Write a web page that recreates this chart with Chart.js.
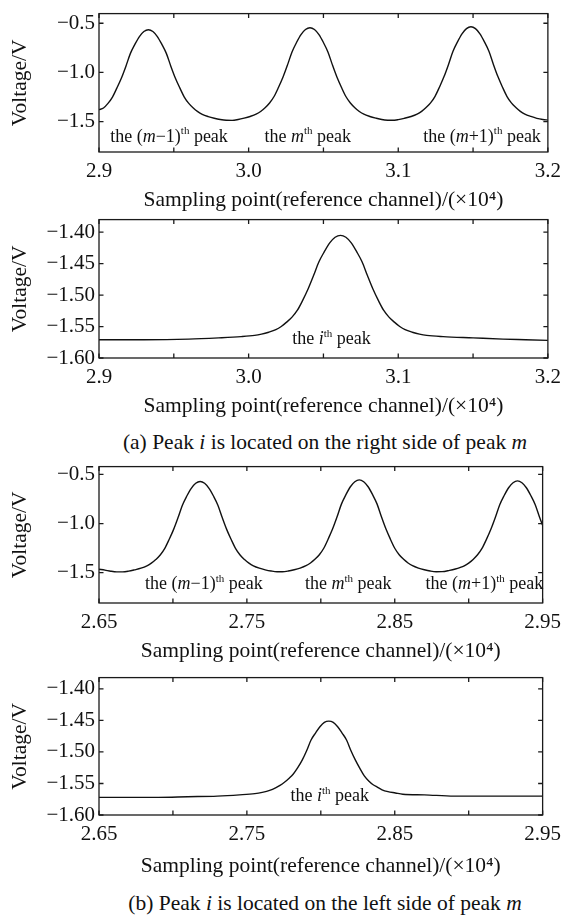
<!DOCTYPE html>
<html>
<head>
<meta charset="utf-8">
<title>Peak positions on the reference channel</title>
<script src="https://cdn.jsdelivr.net/npm/chart.js@4.4.1/dist/chart.umd.min.js"></script>
<style>
  html, body { margin: 0; padding: 0; background: #fff; }
  body { width: 568px; height: 917px; position: relative; overflow: hidden;
         font-family: "Liberation Serif", "Times New Roman", serif; color: #111; }
  canvas { position: absolute; left: 0; }
  .cap { position: absolute; left: 25px; width: 600px; text-align: center;
         font-size: 21.5px; line-height: 24px; white-space: nowrap; }
</style>
</head>
<body>
<div class="cap" style="top:430px">(a) Peak <i>i</i> is located on the right side of peak <i>m</i></div>
<div class="cap" style="top:891px">(b) Peak <i>i</i> is located on the left side of peak <i>m</i></div>
<script>
// ---- (a) upper: reference channel, peaks m-1, m, m+1 (sampling point ×10^4, voltage V)
const samplesA1 = [2.900,2.903,2.906,2.909,2.912,2.915,2.918,2.921,2.924,2.927,2.930,2.933,2.936,2.939,2.942,
  2.945,2.948,2.951,2.954,2.957,2.960,2.963,2.966,2.969,2.973,2.977,2.981,2.985,2.989,2.993,
  2.997,3.001,3.005,3.008,3.011,3.014,3.017,3.020,3.023,3.026,3.029,3.032,3.035,3.038,3.041,
  3.044,3.047,3.050,3.053,3.056,3.059,3.062,3.065,3.068,3.071,3.074,3.077,3.081,3.085,3.089,
  3.093,3.096,3.100,3.104,3.1086,3.1126,3.1156,3.1186,3.1216,3.1246,3.1276,3.1306,3.1336,3.1366,3.1396,
  3.1426,3.1456,3.1486,3.1516,3.1546,3.1576,3.1606,3.1636,3.1666,3.1696,3.1726,3.1756,3.1786,3.1816,3.1846,
  3.1886,3.1926,3.1966,3.200];
const voltsA1 = [-1.378,-1.361,-1.314,-1.250,-1.157,-1.056,-0.936,-0.806,-0.714,-0.635,-0.584,-0.566,-0.584,-0.635,-0.714,
  -0.806,-0.936,-1.056,-1.157,-1.250,-1.314,-1.361,-1.398,-1.425,-1.448,-1.465,-1.478,-1.486,-1.487,-1.478,
  -1.464,-1.447,-1.424,-1.396,-1.358,-1.310,-1.244,-1.150,-1.046,-0.923,-0.791,-0.696,-0.616,-0.564,-0.545,
  -0.564,-0.616,-0.696,-0.791,-0.923,-1.046,-1.150,-1.244,-1.310,-1.358,-1.396,-1.424,-1.447,-1.464,-1.478,
  -1.485,-1.486,-1.479,-1.466,-1.447,-1.423,-1.395,-1.356,-1.309,-1.242,-1.147,-1.042,-0.918,-0.784,-0.689,
  -0.608,-0.555,-0.536,-0.555,-0.608,-0.689,-0.784,-0.918,-1.042,-1.147,-1.242,-1.309,-1.356,-1.395,-1.423,
  -1.447,-1.466,-1.478,-1.484];

// ---- (a) lower: the i-th peak, right of peak m
const samplesA2 = [2.900,2.930,2.960,2.980,2.995,3.004,3.0086,3.0134,3.0182,3.0218,3.0254,3.029,3.0326,3.0362,3.0398,
  3.0434,3.047,3.0506,3.0542,3.0578,3.0614,3.065,3.0686,3.0722,3.0758,3.0794,3.083,3.0866,3.0902,3.0938,
  3.0974,3.101,3.1046,3.1094,3.1142,3.119,3.130,3.150,3.170,3.185,3.200];
const voltsA2 = [-1.571,-1.571,-1.570,-1.568,-1.566,-1.564,-1.562,-1.559,-1.555,-1.550,-1.543,-1.535,-1.524,-1.508,-1.490,
  -1.469,-1.447,-1.431,-1.417,-1.408,-1.405,-1.408,-1.417,-1.431,-1.447,-1.469,-1.490,-1.508,-1.524,-1.535,
  -1.543,-1.550,-1.555,-1.559,-1.562,-1.564,-1.566,-1.568,-1.570,-1.571,-1.572];

// ---- (b) upper: reference channel, peaks m-1, m, m+1
const samplesB1 = [2.650,2.654,2.658,2.662,2.666,2.670,2.674,2.6784,2.6824,2.6854,2.6884,2.6914,2.6944,2.6974,2.7004,
  2.7034,2.7064,2.7094,2.7124,2.7154,2.7184,2.7214,2.7244,2.7274,2.7304,2.7334,2.7364,2.7394,2.7424,2.7454,
  2.7484,2.7514,2.7544,2.7584,2.7624,2.7664,2.7704,2.774,2.778,2.782,2.786,2.790,2.793,2.796,2.799,
  2.802,2.805,2.808,2.811,2.814,2.817,2.820,2.823,2.826,2.829,2.832,2.835,2.838,2.841,2.844,
  2.847,2.850,2.853,2.856,2.859,2.862,2.866,2.870,2.874,2.878,2.882,2.887,2.891,2.894,2.897,
  2.900,2.903,2.906,2.909,2.912,2.915,2.918,2.921,2.924,2.927,2.930,2.933,2.936,2.939,2.942,
  2.945,2.948,2.950];
const voltsB1 = [-1.465,-1.474,-1.485,-1.491,-1.491,-1.484,-1.471,-1.454,-1.430,-1.403,-1.366,-1.320,-1.255,-1.163,-1.062,
  -0.942,-0.813,-0.720,-0.642,-0.591,-0.573,-0.591,-0.642,-0.720,-0.813,-0.942,-1.062,-1.163,-1.255,-1.320,
  -1.366,-1.403,-1.430,-1.454,-1.471,-1.483,-1.490,-1.490,-1.483,-1.470,-1.453,-1.429,-1.401,-1.364,-1.317,
  -1.251,-1.157,-1.054,-0.932,-0.800,-0.706,-0.626,-0.575,-0.556,-0.575,-0.626,-0.706,-0.800,-0.932,-1.054,
  -1.157,-1.251,-1.317,-1.364,-1.401,-1.429,-1.453,-1.470,-1.483,-1.490,-1.489,-1.476,-1.462,-1.448,-1.430,
  -1.402,-1.365,-1.318,-1.253,-1.161,-1.058,-0.938,-0.808,-0.715,-0.636,-0.585,-0.566,-0.585,-0.636,-0.715,
  -0.808,-0.938,-1.018];

// ---- (b) lower: the i-th peak, left of peak m
const samplesB2 = [2.650,2.690,2.710,2.730,2.745,2.7554,2.7604,2.7654,2.7694,2.7724,2.7754,2.7784,2.7814,2.7844,2.7874,
  2.7904,2.7934,2.7964,2.7994,2.8024,2.8054,2.8084,2.8114,2.8144,2.8174,2.8204,2.8234,2.8264,2.8294,2.8324,
  2.8354,2.8384,2.8414,2.8454,2.8504,2.8554,2.870,2.890,2.920,2.950];
const voltsB2 = [-1.572,-1.572,-1.571,-1.570,-1.568,-1.566,-1.564,-1.561,-1.557,-1.553,-1.548,-1.542,-1.535,-1.525,-1.513,
  -1.498,-1.481,-1.470,-1.460,-1.453,-1.451,-1.453,-1.460,-1.470,-1.481,-1.498,-1.513,-1.526,-1.538,-1.546,
  -1.552,-1.556,-1.560,-1.563,-1.565,-1.567,-1.568,-1.570,-1.570,-1.570];

// ---- axis ticks and their labels
const xTicksA = [2.9, 2.95, 3.0, 3.05, 3.1, 3.15, 3.2];
const xTickLabelsA = ['2.9', '', '3.0', '', '3.1', '', '3.2'];
const xTicksB = [2.65, 2.70, 2.75, 2.80, 2.85, 2.90, 2.95];
const xTickLabelsB = ['2.65', '', '2.75', '', '2.85', '', '2.95'];
const yTicksWide = [-1.5, -1.0, -0.5];
const yTickLabelsWide = ['\u22121.5', '\u22121.0', '\u22120.5'];
const yTicksNarrow = [-1.60, -1.55, -1.50, -1.45, -1.40];
const yTickLabelsNarrow = ['\u22121.60', '\u22121.55', '\u22121.50', '\u22121.45', '\u22121.40'];

// ---- peak names written inside the plots
const peakPrev = [['the (', 'n'], ['m', 'i'], ['\u22121)', 'n'], ['th', 's'], [' peak', 'n']];
const peakM    = [['the ', 'n'], ['m', 'i'], ['th', 's'], [' peak', 'n']];
const peakNext = [['the (', 'n'], ['m', 'i'], ['+1)', 'n'], ['th', 's'], [' peak', 'n']];
const peakI    = [['the ', 'n'], ['i', 'i'], ['th', 's'], [' peak', 'n']];

const FONT = '"Liberation Serif", "Times New Roman", serif';
const INK = '#111';
const X_TITLE = 'Sampling point(reference channel)/(\u00d710\u2074)';

function drawRich(ctx, segs, cx, cy, size) {
  const fontFor = s => s === 'i' ? `italic ${size}px ${FONT}`
                    : s === 's' ? `${Math.round(size * 0.6)}px ${FONT}`
                    : `${size}px ${FONT}`;
  let w = 0;
  segs.forEach(([t, s]) => { ctx.font = fontFor(s); w += ctx.measureText(t).width; });
  let xx = cx - w / 2;
  const base = cy + size * 0.33;
  ctx.textAlign = 'left';
  ctx.textBaseline = 'alphabetic';
  segs.forEach(([t, s]) => {
    ctx.font = fontFor(s);
    ctx.fillText(t, xx, s === 's' ? base - size * 0.42 : base);
    xx += ctx.measureText(t).width;
  });
}

// Box around the plot, inward ticks on all four sides and the peak names.
const frameTicks = {
  id: 'frameTicks',
  afterDatasetsDraw(chart, args, opts) {
    const { ctx, chartArea: a, scales: { x, y } } = chart;
    ctx.save();
    ctx.strokeStyle = '#1a1a1a';
    ctx.lineWidth = 1.3;
    ctx.strokeRect(a.left, a.top, a.right - a.left, a.bottom - a.top);
    const L = 4.5;
    ctx.beginPath();
    x.ticks.forEach(t => {
      const px = x.getPixelForValue(t.value);
      ctx.moveTo(px, a.bottom); ctx.lineTo(px, a.bottom - L);
      ctx.moveTo(px, a.top);    ctx.lineTo(px, a.top + L);
    });
    y.ticks.forEach(t => {
      const py = y.getPixelForValue(t.value);
      ctx.moveTo(a.left, py);  ctx.lineTo(a.left + L, py);
      ctx.moveTo(a.right, py); ctx.lineTo(a.right - L, py);
    });
    ctx.stroke();
    ctx.fillStyle = INK;
    (opts.notes || []).forEach(n => {
      drawRich(ctx, n.segs, x.getPixelForValue(n.x), y.getPixelForValue(n.y), 18);
    });
    ctx.restore();
  }
};

function makePanel(p) {
  const cv = document.createElement('canvas');
  cv.width = 568; cv.height = p.height;
  cv.style.top = p.top + 'px';
  document.body.appendChild(cv);
  new Chart(cv, {
    type: 'line',
    data: {
      datasets: [{
        data: p.xs.map((v, i) => ({ x: v, y: p.ys[i] })),
        borderColor: '#111',
        borderWidth: 1.4,
        pointRadius: 0,
        cubicInterpolationMode: 'monotone',
        fill: false
      }]
    },
    options: {
      responsive: false,
      animation: false,
      devicePixelRatio: 1,
      layout: { padding: { top: 12, right: 17, bottom: 0, left: 0 } },
      plugins: {
        legend: { display: false },
        tooltip: { enabled: false },
        frameTicks: { notes: p.notes }
      },
      scales: {
        x: {
          type: 'linear', min: p.xMin, max: p.xMax,
          afterBuildTicks: s => { s.ticks = p.xTicks.map(v => ({ value: v })); },
          afterFit: s => { s.height = p.axisH; },
          grid: { display: false, drawTicks: false },
          border: { display: false },
          ticks: { callback: (v, i) => p.xLabels[i], padding: 7, maxRotation: 0, autoSkip: false,
                   color: INK, font: { family: FONT, size: 21, lineHeight: 1.2 } },
          title: { display: true, text: X_TITLE, color: INK, padding: { top: 0, bottom: 0 },
                   font: { family: FONT, size: 21.5, lineHeight: 1.2 } }
        },
        y: {
          type: 'linear', min: p.yMin, max: p.yMax,
          afterBuildTicks: s => { s.ticks = p.yTicks.map(v => ({ value: v })); },
          afterFit: s => { s.width = 99; },
          grid: { display: false, drawTicks: false },
          border: { display: false },
          ticks: { callback: (v, i) => p.yLabels[i], padding: 4, autoSkip: false,
                   color: INK, font: { family: FONT, size: 21, lineHeight: 1.2 } },
          title: { display: true, text: 'Voltage/V', color: INK, padding: { top: 7, bottom: 0 },
                   font: { family: FONT, size: 21.5, lineHeight: 1.2 } }
        }
      }
    },
    plugins: [frameTicks]
  });
}

makePanel({ top: -3, height: 216, axisH: 61, xs: samplesA1, ys: voltsA1,
  xMin: 2.9, xMax: 3.2, yMin: -1.808, yMax: -0.402,
  xTicks: xTicksA, xLabels: xTickLabelsA, yTicks: yTicksWide, yLabels: yTickLabelsWide,
  notes: [ { segs: peakPrev, x: 2.9468, y: -1.642 },
           { segs: peakM,    x: 3.0395, y: -1.642 },
           { segs: peakNext, x: 3.156,  y: -1.642 } ] });

makePanel({ top: 203, height: 216, axisH: 61, xs: samplesA2, ys: voltsA2,
  xMin: 2.9, xMax: 3.2, yMin: -1.60, yMax: -1.38,
  xTicks: xTicksA, xLabels: xTickLabelsA, yTicks: yTicksNarrow, yLabels: yTickLabelsNarrow,
  notes: [ { segs: peakI, x: 3.0554, y: -1.569 } ] });

makePanel({ top: 450, height: 214, axisH: 61, xs: samplesB1, ys: voltsB1,
  xMin: 2.65, xMax: 2.95, yMin: -1.808, yMax: -0.421,
  xTicks: xTicksB, xLabels: xTickLabelsB, yTicks: yTicksWide, yLabels: yTickLabelsWide,
  notes: [ { segs: peakPrev, x: 2.7209, y: -1.610 },
           { segs: peakM,    x: 2.8186, y: -1.610 },
           { segs: peakNext, x: 2.9106, y: -1.610 } ] });

makePanel({ top: 661, height: 218, axisH: 64, xs: samplesB2, ys: voltsB2,
  xMin: 2.65, xMax: 2.95, yMin: -1.60, yMax: -1.382,
  xTicks: xTicksB, xLabels: xTickLabelsB, yTicks: yTicksNarrow, yLabels: yTickLabelsNarrow,
  notes: [ { segs: peakI, x: 2.806, y: -1.569 } ] });
</script>
</body>
</html>
